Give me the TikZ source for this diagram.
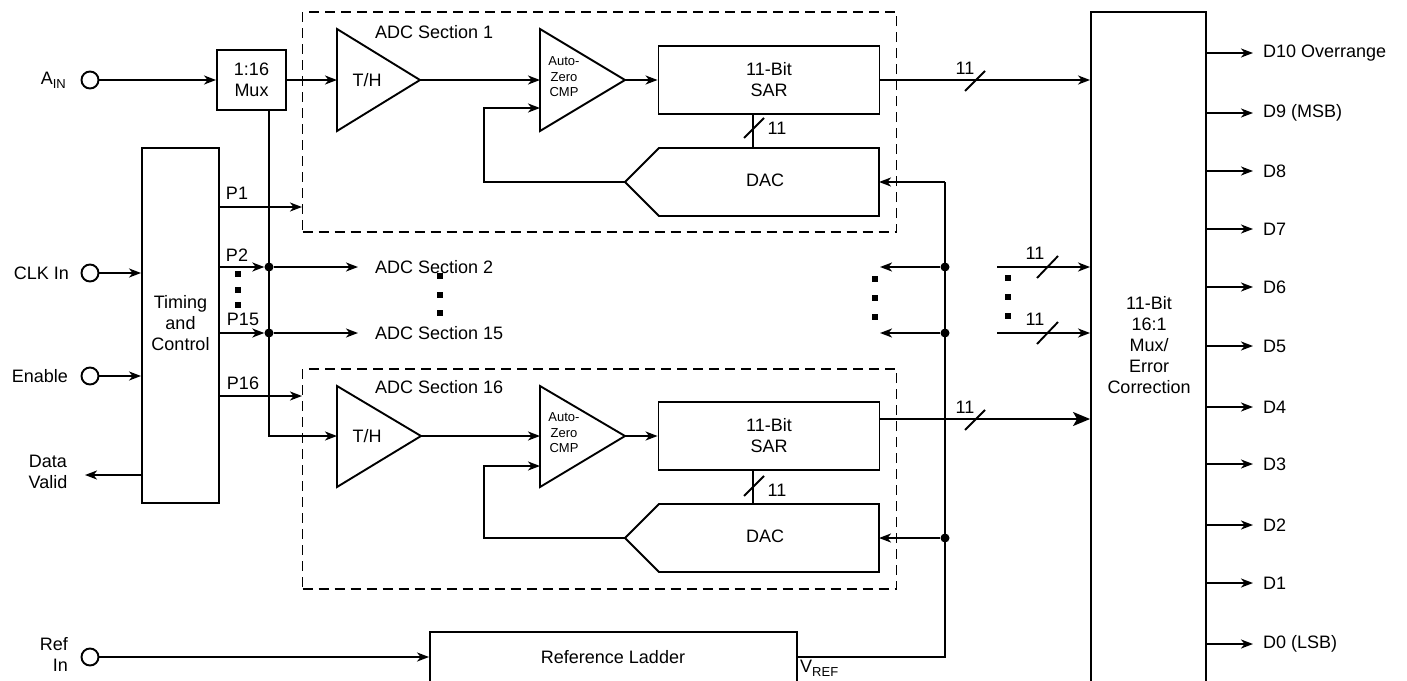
\documentclass[tikz,border=0pt]{standalone}
\usepackage{fontspec}
\setmainfont{Liberation Sans}
\usetikzlibrary{arrows.meta}
\newcommand{\mysub}[1]{\raisebox{-0.4ex}{\fontsize{13}{13}\selectfont #1}}
\begin{document}
\begin{tikzpicture}[x=1pt,y=-1pt,
  every node/.style={font=\fontsize{18}{21}\selectfont},
  blk/.style={draw, line width=1.9pt, inner sep=0pt, align=center},
  wire/.style={line width=1.9pt},
  arr/.style={wire, -{Stealth[length=12pt,width=9pt,inset=3.5pt]}},
  bigarr/.style={wire, -{Stealth[length=17pt,width=14pt,inset=4pt]}},
  dashbox/.style={draw, line width=1.6pt, dash pattern=on 10pt off 6pt},
  pin/.style={circle, draw, line width=1.9pt, minimum size=17pt, inner sep=0pt},
  jdot/.style={circle, fill, minimum size=9pt, inner sep=0pt},
  sqdot/.style={rectangle, fill, minimum size=6pt, inner sep=0pt},
  lbl/.style={inner sep=0pt},
  small/.style={inner sep=0pt, align=center, font=\fontsize{13}{15.5}\selectfont}]
\useasboundingbox (0,0) rectangle (1407,680);

% ---------- inputs ----------
\node[pin] (ain) at (90,80) {};
\node[lbl, anchor=east] (ainl) at (66,80) {A\mysub{IN}};
\node[pin] (clk) at (90,273) {};
\node[lbl, anchor=east] (clkl) at (69,273) {CLK In};
\node[pin] (en) at (90,376) {};
\node[lbl, anchor=east] (enl) at (68,376) {Enable};
\node[lbl, align=center] (dvl) at (48,472) {Data\\Valid};
\coordinate (dv) at (85,475);
\node[pin] (ref) at (90,657) {};
\node[lbl, align=right, anchor=east] (refl) at (68,654) {Ref\\In};

% ---------- mux & timing ----------
\node[blk, minimum width=69pt, minimum height=60pt] (mux) at (251.5,80) {1:16\\Mux};
\node[blk, minimum width=77pt, minimum height=355pt] (tim) at (180.5,325.5) {};
\node[lbl, align=center] (timl) at (180.5,323) {Timing\\and\\Control};

\draw[arr] (ain) -- (mux);
\draw[arr] (clk) -- (clk -| tim.west);
\draw[arr] (en) -- (en -| tim.west);
\draw[arr] (tim.west |- dv) -- (dv);

% ---------- ADC section boxes ----------
\node[dashbox, minimum width=594pt, minimum height=220pt, inner sep=0pt] (sec1) at (599.5,122) {};
\node[dashbox, minimum width=594pt, minimum height=220pt, inner sep=0pt] (sec16) at (599.5,479) {};
\node[lbl, anchor=west] (sec1l) at (375,32) {ADC Section 1};
\node[lbl, anchor=west] (sec16l) at (375,387) {ADC Section 16};

% ---------- section 1 ----------
\coordinate (th1a) at (337,29); \coordinate (th1b) at (337,131);
\coordinate (th1in) at (337,80); \coordinate (th1out) at (420,80);
\draw[wire, line join=miter] (th1a) -- (th1out) -- (th1b) -- cycle;
\node[lbl] (th1l) at (367,80) {T/H};
\coordinate (cm1a) at (540,29); \coordinate (cm1b) at (540,131);
\coordinate (cm1in) at (540,80); \coordinate (cm1in2) at (540,108);
\coordinate (cm1out) at (625,80);
\draw[wire, line join=miter] (cm1a) -- (cm1out) -- (cm1b) -- cycle;
\node[small] (cm1l) at (564,77) {Auto-\\Zero\\CMP};
\node[blk, minimum width=221pt, minimum height=68pt] (sar1) at (769,80) {11-Bit\\SAR};
\coordinate (d1tip) at (625,182);
\draw[wire, line join=miter] (879,148) -- (659,148) -- (d1tip) -- (659,216) -- (879,216) -- cycle;
\coordinate (d1r) at (879,182);
\node[lbl] (dac1) at (765,180) {DAC};
\coordinate (fb1) at (484,182);

\draw[arr] (mux.east |- th1in) -- (th1in);
\draw[arr] (th1out) -- (cm1in);
\draw[arr] (cm1out) -- (sar1.west |- cm1out);
\draw[arr] (d1tip) -- (fb1) |- (cm1in2);
\coordinate (s1b) at (753,114); \coordinate (d1t) at (753,148);
\draw[wire] (s1b) -- (d1t);
\draw[wire] (744,138) -- (764,118);
\node[lbl] (n11a) at (777,128) {11};

% ---------- section 16 ----------
\coordinate (th16a) at (337,386); \coordinate (th16b) at (337,487);
\coordinate (th16in) at (337,436); \coordinate (th16out) at (421,436);
\draw[wire, line join=miter] (th16a) -- (th16out) -- (th16b) -- cycle;
\node[lbl] (th16l) at (367,436) {T/H};
\coordinate (cm16a) at (540,386); \coordinate (cm16b) at (540,487);
\coordinate (cm16in) at (540,436); \coordinate (cm16in2) at (540,466);
\coordinate (cm16out) at (625,436);
\draw[wire, line join=miter] (cm16a) -- (cm16out) -- (cm16b) -- cycle;
\node[small] (cm16l) at (564,433) {Auto-\\Zero\\CMP};
\node[blk, minimum width=221pt, minimum height=68pt] (sar16) at (769,436) {11-Bit\\SAR};
\coordinate (d16tip) at (625,538);
\draw[wire, line join=miter] (879,504) -- (659,504) -- (d16tip) -- (659,572) -- (879,572) -- cycle;
\coordinate (d16r) at (879,538);
\node[lbl] (dac16) at (765,536) {DAC};
\coordinate (fb16) at (484,538);

\draw[arr] (th16out) -- (cm16in);
\draw[arr] (cm16out) -- (sar16.west |- cm16out);
\draw[arr] (d16tip) -- (fb16) |- (cm16in2);
\coordinate (s16b) at (753,470); \coordinate (d16t) at (753,504);
\draw[wire] (s16b) -- (d16t);
\draw[wire] (744,496) -- (764,476);
\node[lbl] (n11b) at (777,490) {11};

% ---------- mux bus to T/H 16 ----------
\coordinate (busTop) at (269,110);
\draw[arr] (busTop) |- (th16in);

% ---------- P lines ----------
\coordinate (p1e) at (302,207);
\draw[arr] (tim.east |- p1e) -- (p1e);
\node[lbl] (p1l) at (237,193) {P1};
\node[jdot] (j2) at (269,267) {};
\node[jdot] (j15) at (269,333) {};
\draw[arr] (tim.east |- j2) -- (j2.west);
\draw[arr] (tim.east |- j15) -- (j15.west);
\node[lbl] (p2l) at (237,255) {P2};
\node[lbl] (p15l) at (243,319) {P15};
\coordinate (a2) at (358,267); \coordinate (a15) at (358,333);
\draw[arr] (j2) -- (a2);
\draw[arr] (j15) -- (a15);
\node[lbl, anchor=west] (s2l) at (375,267) {ADC Section 2};
\node[lbl, anchor=west] (s15l) at (375,333) {ADC Section 15};
\coordinate (p16e) at (302,396);
\draw[arr] (tim.east |- p16e) -- (p16e);
\node[lbl] (p16l) at (243,383) {P16};

% vertical dots
\foreach \yy in {274,290,305} \node[sqdot] at (238,\yy) {};
\foreach \yy in {276,295,313} \node[sqdot] at (440,\yy) {};
\foreach \yy in {279,298,317} \node[sqdot] at (875,\yy) {};
\foreach \yy in {278,297,316} \node[sqdot] at (1008,\yy) {};

% ---------- output mux ----------
\node[blk, minimum width=115pt, minimum height=688pt] (omux) at (1148.5,356) {};
\node[lbl, align=center] (omuxl) at (1149,345) {11-Bit\\16:1\\Mux/\\Error\\Correction};

\draw[arr] (sar1.east |- th1in) -- (th1in -| omux.west);
\draw[wire] (965,91) -- (985,71);
\node[lbl] (n11c) at (965,68) {11};
\coordinate (s16o) at (879,419);
\draw[bigarr] (s16o) -- (s16o -| omux.west);
\draw[wire] (965,430) -- (985,410);
\node[lbl] (n11d) at (965,407) {11};

\coordinate (r2) at (997,267); \coordinate (r15) at (997,333);
\draw[arr] (r2) -- (r2 -| omux.west);
\draw[arr] (r15) -- (r15 -| omux.west);
\draw[wire] (1037,278) -- (1058,256);
\draw[wire] (1037,344) -- (1058,322);
\node[lbl] (n11e) at (1035,253) {11};
\node[lbl] (n11f) at (1035,319) {11};

% ---------- reference ladder & Vref bus ----------
\node[blk, minimum width=367pt, minimum height=68pt, anchor=north] (lad) at (613.5,631) {};
\node[lbl] (ladl) at (613,657) {Reference Ladder};
\node[lbl, anchor=west] (vrefl) at (800,668) {V\mysub{REF}};
\draw[arr] (ref) -- (ref -| lad.west);
\coordinate (vtop) at (945,182);
\coordinate (vbot) at (945,657);
\draw[wire] (lad.east |- vbot) -- (vbot) -- (vtop);
\draw[arr] (vtop) -- (d1r);
\node[jdot] (jv16) at (945,538) {};
\draw[arr] (jv16) -- (d16r);
\node[jdot] (jv2) at (945,267) {};
\node[jdot] (jv15) at (945,333) {};
\coordinate (l2) at (880,267); \coordinate (l15) at (880,333);
\draw[arr] (jv2) -- (l2);
\draw[arr] (jv15) -- (l15);

% ---------- data outputs ----------
\foreach \yy/\tx in {53/D10 Overrange,113/D9 (MSB),171/D8,229/D7,287/D6,346/D5,407/D4,464/D3,525/D2,583/D1,644/D0 (LSB)}{
  \draw[arr] (omux.east |- 0,\yy) -- (1253,\yy);
  \node[lbl, anchor=west] at (1263,\yy) {\tx};
}
\end{tikzpicture}
\end{document}
